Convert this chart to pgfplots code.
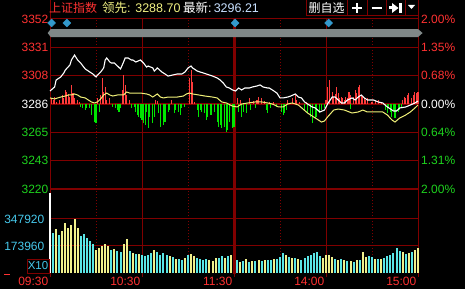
\documentclass[border=0pt]{standalone}
\usepackage{pgfplots}
\pgfplotsset{compat=1.18}
\usepackage{fontspec}
\setmainfont{Liberation Sans}
\newfontfamily\cjk{Noto Sans CJK SC}
\definecolor{gridred}{RGB}{128,0,0}
\definecolor{lblred}{RGB}{255,50,50}
\definecolor{lblgreen}{RGB}{30,210,30}
\definecolor{lblcyan}{RGB}{70,200,235}
\definecolor{barcyan}{RGB}{90,230,230}
\definecolor{baryellow}{RGB}{240,240,140}
\definecolor{lineyellow}{RGB}{240,240,120}
\definecolor{upred}{RGB}{255,60,60}
\definecolor{dngreen}{RGB}{0,230,0}
\definecolor{bandgray}{RGB}{128,136,136}
\definecolor{dmdblue}{RGB}{51,153,204}
\definecolor{hdryellow}{RGB}{240,240,130}
\definecolor{hdrblue}{RGB}{200,225,255}
\pgfplotsset{
  base/.style={scale only axis, width=368pt, xmin=0, xmax=240, clip=false,
    tick label style={font=\fontsize{12}{12}\selectfont}},
}
\begin{document}
\begin{tikzpicture}
\begin{scope}[x=1pt,y=1pt]
\fill[black] (0,0) rectangle (465,289);
\end{scope}

% ---- price grid, left labels
\begin{axis}[base, at={(50pt,100pt)}, anchor=south west, height=170pt,
  ymin=3220, ymax=3352,
  axis line style={gridred, line width=1pt},
  xtick={60,180}, minor xtick={30,90,150,210}, xticklabels={},
  ytick={3220,3242,3264,3286,3308,3330,3352},
  yticklabels={{\color{lblgreen}3220},{\color{lblgreen}3243},{\color{lblgreen}3265},{\color{white}3286},{\color{lblred}3308},{\color{lblred}3331},{\color{lblred}3352}},
  grid=both,
  major grid style={gridred, line width=1pt},
  minor grid style={gridred, line width=0.9pt, dash pattern=on 1pt off 2pt},
  major tick length=0pt, minor tick length=0pt,
  yticklabel style={inner sep=1.5pt}]
\addplot[draw=none] coordinates {(0,3286)};
\draw[gridred, line width=2.6pt] (axis cs:0,3286) -- (axis cs:240,3286);
\draw[gridred, line width=2pt] (axis cs:0,3220) -- (axis cs:240,3220);
\draw[gridred, line width=3pt] (axis cs:120,3220) -- (axis cs:120,3352);
\end{axis}

% ---- red / green bars
\begin{axis}[base, at={(50pt,100pt)}, anchor=south west, height=170pt,
  ymin=-85, ymax=85, hide axis]
\addplot[ycomb, upred, line width=1.1pt] coordinates {
(1,6)(2,4)(3,7)(4,2)(6,4)(8,9)(9,6)(10,14)(11,12)(12,10)(13,7)(14,19)(15,11)(16,6)(18,4)(19,2)
(31,6)(33,9)(34,26)(35,12)(36,17)(37,4)(39,6)(47,14)(48,29)(49,19)(50,9)(52,4)(69,4)(70,3)(79,4)
(91,26)(92,34)(93,22)(94,2)(122,6)(124,4)(130,6)(133,3)(135,4)(136,7)(138,6)(140,3)(143,2)(146,2)
(155,4)(158,6)(160,9)(161,4)(163,2)(167,2)(180,4)(181,17)(182,24)(184,12)(185,7)(186,10)(187,17)
(188,11)(189,6)(190,7)(191,6)(192,4)(193,7)(194,6)(195,12)(196,9)(198,7)(199,14)(200,11)(201,17)
(202,19)(203,9)(204,7)(205,6)(206,4)(207,6)(210,2)(212,3)(214,4)(216,2)(230,4)(231,7)(232,6)
(233,9)(234,11)(236,6)(237,9)(238,12)(239,11)(240,12)};
\addplot[ycomb, dngreen, line width=1.1pt] coordinates {
(20,-3)(21,-4)(23,-6)(24,-4)(26,-4)(27,-11)(29,-18)(30,-19)(32,-8)(41,-3)(43,-4)(44,-6)(45,-8)(46,-4)
(53,-4)(55,-3)(56,-8)(57,-11)(58,-13)(59,-14)(60,-16)(61,-19)(62,-21)(63,-8)(64,-24)(65,-13)(67,-19)
(68,-13)(71,-9)(72,-23)(74,-21)(75,-18)(77,-8)(78,-6)(81,-9)(82,-6)(84,-8)(85,-11)(86,-4)(88,-3)
(96,-6)(97,-13)(98,-6)(99,-8)(101,-9)(102,-16)(103,-13)(105,-11)(107,-8)(109,-18)(110,-23)(111,-21)
(112,-24)(114,-23)(115,-28)(116,-26)(117,-18)(119,-24)(120,-23)(123,-8)(125,-13)(126,-8)(128,-9)
(131,-6)(134,-4)(141,-6)(142,-9)(144,-4)(148,-3)(151,-8)(152,-11)(153,-9)(154,-6)(166,-6)(168,-9)
(170,-13)(171,-19)(173,-14)(174,-13)(176,-9)(177,-6)(179,-4)(196,-5)(219,-6)(220,-9)(221,-4)(222,-8)
(223,-13)(224,-6)(225,-14)(227,-8)(228,-6)(229,-4)};
\end{axis}

% ---- price lines, right labels
\begin{axis}[base, at={(50pt,100pt)}, anchor=south west, height=170pt,
  ymin=3220, ymax=3352, axis line style={draw=none}, xtick=\empty,
  ytick={3220,3242,3264,3286,3308,3330,3352}, yticklabel pos=right,
  yticklabels={{\color{lblgreen}2.00\%},{\color{lblgreen}1.31\%},{\color{lblgreen}0.64\%},{\color{white}0.00\%},{\color{lblred}0.68\%},{\color{lblred}1.35\%},{\color{lblred}2.00\%}},
  major tick length=0pt, yticklabel style={inner sep=1.5pt, xshift=1.5pt}]
\fill[bandgray] (axis cs:-1.5,3341.1) -- (axis cs:0.5,3344.2) -- (axis cs:240,3344.2) -- (axis cs:243,3341.1) -- (axis cs:240,3338) -- (axis cs:0.5,3338) -- cycle;
\addplot[lineyellow, line width=1pt] coordinates {
(0,3290.7)(3,3289.9)(5,3290.7)(7,3291.4)(10,3292.2)(12,3293.0)(14,3293.0)(16,3293.8)(18,3293.0)(20,3291.4)
(23,3290.7)(25,3289.1)(27,3287.6)(29,3286.8)(31,3287.6)(33,3289.9)(35,3293.0)(37,3294.5)(39,3293.0)(41,3292.2)
(44,3293.0)(48,3293.0)(50,3295.3)(52,3294.5)(55,3294.5)(59,3294.5)(63,3293.8)(65,3293.0)(67,3291.4)(70,3293.8)
(72,3291.4)(74,3290.7)(77,3291.4)(83,3291.4)(87,3292.2)(89,3293.8)(91,3294.5)(93,3293.8)(97,3293.0)(101,3292.2)
(106,3291.4)(109,3290.7)(112,3287.6)(115,3286.8)(119,3284.4)(122,3283.7)(125,3286.0)(129,3286.8)(134,3287.6)
(138,3287.6)(142,3286.8)(145,3286.0)(149,3283.7)(152,3283.7)(155,3286.0)(158,3286.8)(162,3285.2)(165,3282.1)
(168,3279.0)(172,3275.9)(175,3273.6)(177,3272.0)(179,3272.8)(181,3275.9)(185,3281.3)(188,3282.1)(192,3281.3)
(197,3279.0)(201,3279.8)(204,3281.3)(207,3279.8)(212,3279.8)(217,3279.8)(220,3277.5)(223,3273.6)(225,3272.0)
(228,3275.1)(232,3277.5)(235,3279.8)(238,3282.9)(240,3285.2)};
\addplot[white, line width=1.1pt] coordinates {
(0,3296.1)(3,3299.2)(4,3304.6)(6,3306.2)(7,3307.0)(9,3310.1)(10,3312.4)(13,3316.3)(14,3320.2)(16,3324.0)
(18,3320.2)(20,3317.8)(22,3314.7)(23,3313.2)(24,3312.4)(26,3310.8)(28,3309.3)(30,3307.0)(31,3308.5)(33,3310.8)
(35,3314.0)(36,3320.2)(37,3321.7)(39,3318.6)(40,3317.8)(42,3317.8)(44,3315.5)(46,3313.2)(48,3318.6)(49,3321.7)
(51,3321.7)(53,3320.2)(54,3320.2)(56,3318.6)(59,3320.2)(61,3317.8)(63,3314.7)(64,3315.5)(67,3314.0)(68,3311.6)
(70,3314.0)(73,3310.8)(75,3309.3)(77,3307.7)(80,3308.5)(83,3309.3)(86,3309.3)(88,3310.8)(90,3314.0)(92,3315.5)
(93,3314.0)(96,3311.6)(98,3310.8)(100,3310.1)(102,3309.3)(106,3307.7)(109,3306.2)(111,3304.6)(113,3302.3)
(115,3299.2)(117,3298.4)(119,3296.9)(121,3296.1)(123,3298.4)(125,3296.9)(127,3298.4)(130,3298.4)(132,3299.2)
(135,3300.0)(137,3300.8)(139,3299.2)(142,3298.4)(143,3298.4)(145,3296.9)(148,3294.5)(150,3290.7)(152,3290.7)
(155,3291.4)(157,3292.2)(160,3293.8)(162,3291.4)(164,3290.7)(166,3287.6)(168,3286.0)(171,3283.7)(173,3282.9)
(176,3279.8)(179,3281.3)(181,3286.0)(184,3291.4)(186,3291.4)(188,3289.1)(190,3286.8)(192,3286.8)(194,3289.1)
(197,3290.7)(199,3289.1)(201,3291.4)(203,3293.0)(205,3290.7)(207,3289.1)(211,3289.1)(214,3287.6)(217,3286.8)
(220,3283.7)(224,3280.6)(226,3280.6)(228,3282.9)(232,3283.7)(235,3285.2)(238,3286.8)(240,3288.3)};
\addplot[only marks, mark=square*, mark size=2.8pt, mark options={rotate=45, draw=dmdblue, fill=dmdblue}] coordinates {
(1,3348.9)(11,3348.9)(120.7,3348.9)(181.7,3348.9)};
\end{axis}

% ---- volume
\begin{axis}[base, at={(50pt,16pt)}, anchor=south west, height=84pt,
  ymin=0, ymax=541000, scaled y ticks=false,
  axis line style={gridred, line width=1pt}, x axis line style={draw=none},
  xtick={0,60,120,180,240}, xticklabels={09:30,10:30,11:30,14:00,15:00},
  minor xtick={30,90,150,210},
  xticklabel style={anchor=north east, text=lblred, inner sep=1.5pt, yshift=2pt},
  ytick={173960,347920}, yticklabels={173960,347920},
  yticklabel style={text=lblcyan, inner sep=1.5pt},
  grid=both,
  major grid style={gridred, line width=1pt},
  minor grid style={gridred, line width=0.9pt, dash pattern=on 1pt off 2pt},
  tick align=outside, major tick length=4pt, minor tick length=0pt,
  xtick pos=left, ytick style={draw=none}, xtick style={gridred, line width=1pt}]
\addplot[ycomb, white, line width=2pt] coordinates {(0,515200)};
\addplot[ycomb, barcyan, line width=2pt] coordinates {
(2,257600)(6,244720)(20,238280)(22,251160)(24,225400)(26,206080)(28,186760)(40,148120)(44,141680)(46,135240)
(52,141680)(56,122360)(60,115920)(62,109480)(64,115920)(66,128800)(70,135240)(72,115920)(74,128800)(76,115920)
(80,103040)(84,90160)(86,83720)(90,115920)(96,96600)(98,90160)(100,83720)(102,90160)(110,96600)(112,109480)
(116,109480)(122,83720)(126,77280)(130,70840)(134,77280)(138,77280)(142,83720)(144,83720)(148,90160)(150,103040)
(152,128800)(156,103040)(160,96600)(164,83720)(166,96600)(168,109480)(170,115920)(172,128800)(174,135240)
(176,109480)(186,90160)(190,90160)(194,77280)(198,70840)(202,83720)(208,109480)(210,103040)(214,90160)
(218,96600)(220,109480)(222,115920)(224,128800)(226,161000)(228,141680)(232,122360)(236,135240)};
\addplot[ycomb, baryellow, line width=2pt] coordinates {
(4,283360)(8,270480)(10,322000)(12,289800)(14,309120)(16,347760)(18,289800)(30,148120)(32,161000)(34,173880)
(36,186760)(38,173880)(42,154560)(48,186760)(50,218960)(54,128800)(58,122360)(68,148120)(78,109480)(82,90160)
(88,96600)(92,122360)(94,109480)(104,83720)(106,77280)(108,96600)(114,96600)(118,115920)(120,225400)(124,70840)
(128,90160)(132,77280)(136,83720)(140,83720)(146,90160)(154,115920)(158,96600)(162,90160)(178,96600)(180,115920)
(182,115920)(184,103040)(188,83720)(192,83720)(196,77280)(200,83720)(204,135240)(206,103040)(212,90160)
(216,90160)(230,135240)(234,128800)(238,148120)(240,161000)};
\draw[gridred, line width=3pt] (axis cs:120,-9500) -- (axis cs:120,541000);
\end{axis}

\begin{scope}[x=1pt,y=1pt]
% frame extensions into header
\draw[gridred, line width=1pt] (50,270) -- (50,289);
\draw[gridred, line width=1pt] (418,270) -- (418,289);
% header texts
\node[anchor=west, inner sep=0, text=lblred] at (49,281.5) {\cjk\fontsize{12}{12}\selectfont 上证指数};
\node[anchor=west, inner sep=0, text=hdryellow] at (102,281.5) {\fontsize{12.5}{12}\selectfont{\cjk 领先}: 3288.70};
\node[anchor=west, inner sep=0, text=white] at (183,281.5) {\fontsize{12.5}{12}\selectfont{\cjk 最新}:\,\textcolor{hdrblue}{3296.21}};
% buttons
\draw[gridred, line width=1pt] (306,273) rectangle (347,290);
\draw[gridred, line width=1pt] (347,273) rectangle (367,290);
\draw[gridred, line width=1pt] (367,273) rectangle (386,290);
\draw[gridred, line width=1pt] (386,273) rectangle (405,290);
\draw[gridred, line width=1pt] (405,273) rectangle (418,290);
\node[inner sep=0, text=white] at (326.5,281.5) {\cjk\fontsize{12}{12}\selectfont 删自选};
\draw[white, line width=2.4pt] (352,281) -- (362,281) (357,276) -- (357,286);
\draw[white, line width=2.4pt] (371.5,281) -- (381.5,281);
\fill[white] (389,279.5) rectangle (392,282.5);
\fill[white] (392,276) -- (398.5,281) -- (392,286) -- cycle;
\fill[white] (399,276) rectangle (401.5,286);
\fill[white] (408,284) -- (415,284) -- (411.5,280) -- cycle;
% X10 box and marker
\draw[gridred, line width=1pt] (27,16) rectangle (49,30);
\node[inner sep=0, text=lblcyan] at (38,23) {\fontsize{11.5}{12}\selectfont X10};
\draw[lblred, line width=1pt] (4,15) -- (10,15);
\end{scope}
\pgfresetboundingbox
\path[use as bounding box] (0,0) rectangle (465pt,289pt);
\end{tikzpicture}
\end{document}
